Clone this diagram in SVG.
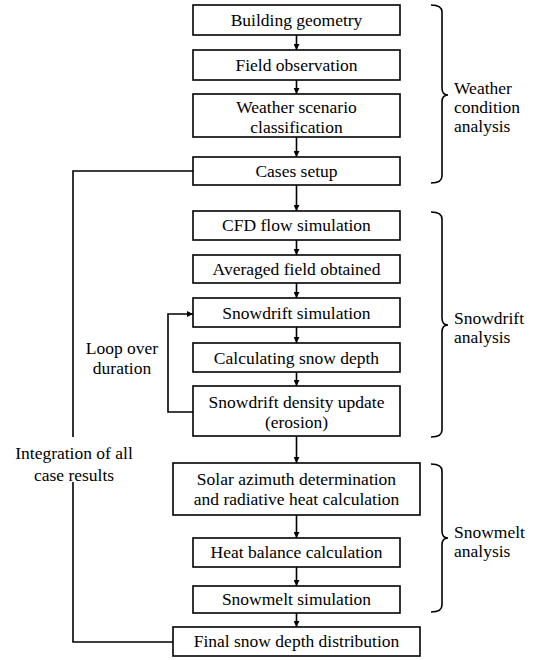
<svg xmlns="http://www.w3.org/2000/svg" width="545" height="660" viewBox="0 0 545 660">
<defs>
<marker id="ah" viewBox="0 0 8 8" refX="8" refY="4" markerWidth="6" markerHeight="6" markerUnits="userSpaceOnUse" orient="auto">
<path d="M0,0 L8,4 L0,8 Z" fill="#000"/>
</marker>
<style>
.box{fill:#fff;stroke:#000;stroke-width:1.6}
.t{font-family:"Liberation Serif","Times New Roman",serif;font-size:17.5px;fill:#000;text-anchor:middle}
.s{font-family:"Liberation Serif","Times New Roman",serif;font-size:17.5px;fill:#000}
.c{fill:none;stroke:#000;stroke-width:1.6}
.br{fill:none;stroke:#000;stroke-width:1.6}
</style>
</defs>
<rect width="545" height="660" fill="#fff"/>
<g id="connectors">
<line class="c" x1="296.5" y1="35" x2="296.5" y2="50" marker-end="url(#ah)"/>
<line class="c" x1="296.5" y1="80" x2="296.5" y2="94" marker-end="url(#ah)"/>
<line class="c" x1="296.5" y1="137" x2="296.5" y2="157" marker-end="url(#ah)"/>
<line class="c" x1="296.5" y1="185" x2="296.5" y2="211" marker-end="url(#ah)"/>
<line class="c" x1="296.5" y1="240" x2="296.5" y2="255" marker-end="url(#ah)"/>
<line class="c" x1="296.5" y1="283" x2="296.5" y2="298" marker-end="url(#ah)"/>
<line class="c" x1="296.5" y1="327" x2="296.5" y2="343" marker-end="url(#ah)"/>
<line class="c" x1="296.5" y1="372" x2="296.5" y2="386" marker-end="url(#ah)"/>
<line class="c" x1="296.5" y1="436" x2="296.5" y2="463" marker-end="url(#ah)"/>
<line class="c" x1="296.5" y1="515" x2="296.5" y2="538" marker-end="url(#ah)"/>
<line class="c" x1="296.5" y1="567" x2="296.5" y2="586" marker-end="url(#ah)"/>
<line class="c" x1="296.5" y1="613" x2="296.5" y2="627" marker-end="url(#ah)"/>
<polyline class="c" points="193,412 168,412 168,314 193,314" marker-end="url(#ah)"/>
<polyline class="c" points="193,171 73,171 73,437"/>
<polyline class="c" points="73,482 73,642 173,642"/>
</g>
<g id="n1"><rect class="box" x="193" y="5" width="207" height="30"/><text class="t" x="296.5" y="26">Building geometry</text></g>
<g id="n2"><rect class="box" x="193" y="50" width="207" height="30"/><text class="t" x="296.5" y="71">Field observation</text></g>
<g id="n3"><rect class="box" x="193" y="94" width="207" height="43"/><text class="t" x="296.5" y="113">Weather scenario</text><text class="t" x="296.5" y="133">classification</text></g>
<g id="n4"><rect class="box" x="193" y="157" width="207" height="28"/><text class="t" x="296.5" y="177">Cases setup</text></g>
<g id="n5"><rect class="box" x="193" y="211" width="207" height="29"/><text class="t" x="296.5" y="231">CFD flow simulation</text></g>
<g id="n6"><rect class="box" x="193" y="255" width="207" height="28"/><text class="t" x="296.5" y="275">Averaged field obtained</text></g>
<g id="n7"><rect class="box" x="193" y="298" width="207" height="29"/><text class="t" x="296.5" y="319">Snowdrift simulation</text></g>
<g id="n8"><rect class="box" x="193" y="343" width="207" height="29"/><text class="t" x="296.5" y="364">Calculating snow depth</text></g>
<g id="n9"><rect class="box" x="193" y="386" width="207" height="50"/><text class="t" x="296.5" y="408">Snowdrift density update</text><text class="t" x="296.5" y="428">(erosion)</text></g>
<g id="n10"><rect class="box" x="173" y="463" width="247" height="52"/><text class="t" x="296.5" y="485">Solar azimuth determination</text><text class="t" x="296.5" y="505">and radiative heat calculation</text></g>
<g id="n11"><rect class="box" x="193" y="538" width="207" height="29"/><text class="t" x="296.5" y="558">Heat balance calculation</text></g>
<g id="n12"><rect class="box" x="193" y="586" width="207" height="27"/><text class="t" x="296.5" y="605">Snowmelt simulation</text></g>
<g id="n13"><rect class="box" x="173" y="627" width="247" height="29"/><text class="t" x="296.5" y="647">Final snow depth distribution</text></g>
<g id="labels">
<text class="t" x="122" y="354">Loop over</text>
<text class="t" x="122" y="374">duration</text>
<text class="t" x="74" y="459">Integration of all</text>
<text class="t" x="74" y="481">case results</text>
</g>
<g id="braces">
<path class="br" d="M431,5 Q442,5 442,12 L442,88 Q442,95 448,95 Q442,95 442,102 L442,176 Q442,183 431,183"/>
<path class="br" d="M431,212 Q442,212 442,219 L442,318 Q442,325 448,325 Q442,325 442,332 L442,430 Q442,437 431,437"/>
<path class="br" d="M431,464 Q442,464 442,471 L442,531 Q442,538 448,538 Q442,538 442,545 L442,605 Q442,612 431,612"/>
<text class="s" x="454" y="94">Weather</text>
<text class="s" x="454" y="113">condition</text>
<text class="s" x="454" y="132">analysis</text>
<text class="s" x="454" y="324">Snowdrift</text>
<text class="s" x="454" y="343">analysis</text>
<text class="s" x="454" y="538">Snowmelt</text>
<text class="s" x="454" y="557">analysis</text>
</g>
</svg>
